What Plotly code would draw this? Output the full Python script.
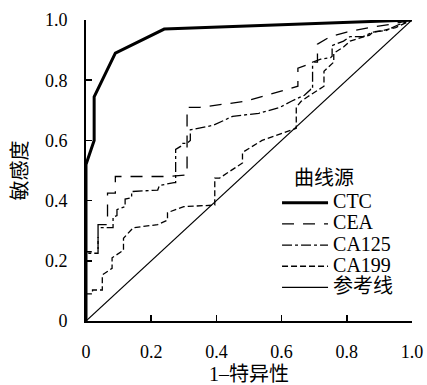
import plotly.graph_objects as go

# ---- data ----
ctc_x = [0, 0, 0.025, 0.025, 0.09, 0.24, 1.0]
ctc_y = [0, 0.52, 0.60, 0.745, 0.89, 0.97, 1.0]

cea_x = [0, 0, 0.037, 0.037, 0.066, 0.066, 0.09, 0.09, 0.25, 0.31, 0.31, 0.35, 0.49,
         0.585, 0.65, 0.65, 0.70, 0.71, 0.71, 0.75, 0.80, 0.87, 0.93, 1.0]
cea_y = [0, 0.23, 0.23, 0.32, 0.32, 0.425, 0.425, 0.48, 0.48, 0.485, 0.71, 0.71, 0.73,
         0.76, 0.78, 0.84, 0.86, 0.86, 0.92, 0.945, 0.96, 0.975, 0.985, 1.0]

ca125_x = [0, 0, 0.037, 0.037, 0.083, 0.083, 0.095, 0.095, 0.12, 0.12, 0.14, 0.14,
           0.22, 0.225, 0.27, 0.275, 0.275, 0.29, 0.295, 0.31, 0.32, 0.32, 0.39, 0.45,
           0.53, 0.595, 0.63, 0.65, 0.67, 0.69, 0.695, 0.695, 0.72, 0.75, 0.755, 0.755,
           0.79, 0.81, 0.85, 0.88, 0.92, 0.96, 1.0]
ca125_y = [0, 0.225, 0.225, 0.31, 0.31, 0.345, 0.35, 0.37, 0.38, 0.405, 0.41, 0.43,
           0.435, 0.45, 0.46, 0.46, 0.57, 0.58, 0.59, 0.59, 0.60, 0.635, 0.65, 0.68,
           0.69, 0.71, 0.73, 0.74, 0.75, 0.77, 0.77, 0.86, 0.87, 0.875, 0.88, 0.915,
           0.93, 0.945, 0.945, 0.96, 0.965, 0.985, 1.0]

ca199_x = [0, 0, 0.02, 0.02, 0.05, 0.05, 0.08, 0.08, 0.115, 0.115, 0.145, 0.22, 0.25,
           0.25, 0.30, 0.395, 0.395, 0.41, 0.48, 0.48, 0.54, 0.645, 0.645, 0.66, 0.68,
           0.70, 0.73, 0.73, 0.75, 0.76, 0.76, 0.79, 0.81, 0.84, 0.87, 0.88, 0.91, 0.95,
           0.98, 1.0]
ca199_y = [0, 0.09, 0.09, 0.103, 0.103, 0.153, 0.175, 0.21, 0.235, 0.275, 0.31, 0.32,
           0.335, 0.36, 0.38, 0.385, 0.475, 0.475, 0.525, 0.56, 0.60, 0.64, 0.71, 0.73,
           0.745, 0.76, 0.78, 0.83, 0.85, 0.86, 0.89, 0.91, 0.93, 0.94, 0.95, 0.96,
           0.965, 0.975, 0.99, 1.0]

ref_x = [0, 1]
ref_y = [0, 1]

names = ["CTC", "CEA", "CA125", "CA199", "参考线"]
tick_vals = [0, 0.2, 0.4, 0.6, 0.8, 1.0]
tick_text = ["0", "0.2", "0.4", "0.6", "0.8", "1.0"]

SERIF = "'Liberation Serif', 'Noto Sans CJK SC', serif"
BIG = '<span style="font-size:20px">{}</span>'

series = [
    (ctc_x, ctc_y, dict(color="black", width=3)),
    (cea_x, cea_y, dict(color="black", width=1.3, dash="12px,9px")),
    (ca125_x, ca125_y, dict(color="black", width=1.3, dash="10px,3px,3px,3px")),
    (ca199_x, ca199_y, dict(color="black", width=1.3, dash="6px,3px")),
    (ref_x, ref_y, dict(color="black", width=1.2)),
]

fig = go.Figure()
for (xs, ys, ln), nm in zip(series, names):
    fig.add_trace(go.Scatter(x=xs, y=ys, mode="lines", line=ln, name=BIG.format(nm)))

axis_common = dict(
    range=[0, 1], tickvals=tick_vals, ticktext=tick_text,
    ticks="inside", ticklen=6, tickwidth=1.5, tickcolor="black",
    showline=True, linewidth=2, linecolor="black",
    showgrid=False, zeroline=False, automargin=False,
    tickfont=dict(family=SERIF, size=18, color="black"),
    ticklabelstandoff=13, ticklabeloverflow="allow",
)

fig.update_layout(
    width=427, height=385,
    margin=dict(l=86, r=15, t=20, b=64),
    paper_bgcolor="white", plot_bgcolor="white",
    xaxis=dict(axis_common, title=dict(text="1–特异性", standoff=6,
               font=dict(family=SERIF, size=20, color="black"))),
    yaxis=dict(axis_common, title=dict(text="敏感度", standoff=12,
               font=dict(family=SERIF, size=20, color="black"))),
    legend=dict(x=0.586, xanchor="left", y=0.445, yanchor="top",
                bgcolor="rgba(0,0,0,0)", borderwidth=0, itemwidth=46,
                font=dict(family=SERIF, size=14, color="black"),
                tracegroupgap=0),
    annotations=[dict(text="曲线源", xref="paper", yref="paper", x=0.632, y=0.475,
                      xanchor="left", yanchor="middle", showarrow=False,
                      font=dict(family=SERIF, size=20, color="black"))],
    showlegend=True,
    hovermode=False,
)

# remove the default 8px page margin so the figure fills the window exactly
fig.write_html(
    "out.html",
    config={"displayModeBar": False, "staticPlot": True},
    post_script="document.body.style.margin='0';document.body.style.overflow='hidden';",
)
